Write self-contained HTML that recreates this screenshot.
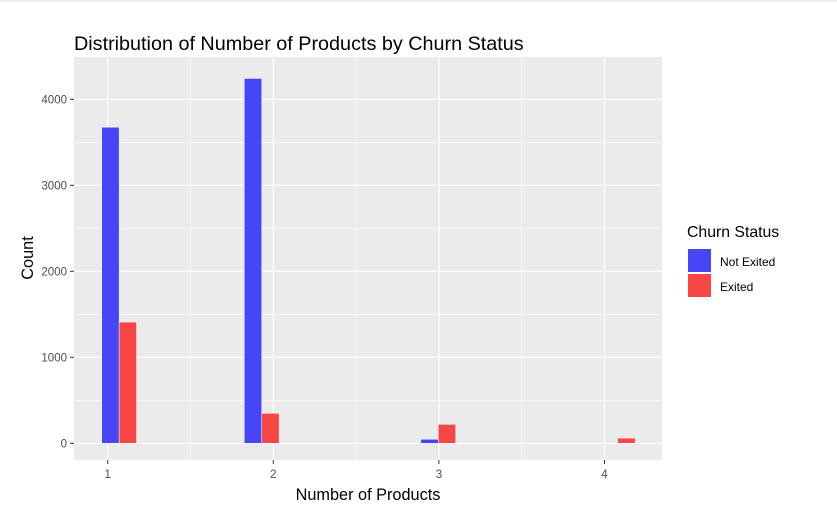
<!DOCTYPE html>
<html><head><meta charset="utf-8"><style>
body{margin:0;background:#fff;}
svg{display:block;font-family:"Liberation Sans",Arial,sans-serif;}
</style></head><body>
<svg id="chart" width="837" height="512">
<line x1="0" y1="1" x2="837" y2="1" stroke="#ddd"/>
<rect x="74" y="57" width="588" height="403" fill="#ebebeb"/>
<g id="grid"></g><g id="bars"></g><g id="axes"></g>
<text x="74" y="50" font-size="19.8" fill="#000">Distribution of Number of Products by Churn Status</text>
<text x="368" y="500" font-size="16.3" text-anchor="middle" fill="#000">Number of Products</text>
<text x="33" y="258" font-size="16.3" text-anchor="middle" transform="rotate(-90 33 258)" fill="#000">Count</text>
<g>
<text x="687" y="237" font-size="15.8" fill="#000">Churn Status</text>
<rect x="688" y="249" width="23" height="23" fill="#4646f6"/>
<text x="720" y="266" font-size="12" fill="#000">Not Exited</text>
<rect x="688" y="274" width="23" height="23" fill="#f64646"/>
<text x="720" y="291" font-size="12" fill="#000">Exited</text>
</g>
</svg>
<script>
const categories=[1,2,3,4];
const binStart=[0.964,1.825,2.891,3.975];
const notExited=[3675,4242,46,0];
const exited=[1409,348,220,60];
const yTicks=[0,1000,2000,3000,4000];
const yMinor=[500,1500,2500,3500];
const xMinor=[1.5,2.5,3.5];
const NS="http://www.w3.org/2000/svg";
const xs=v=>107.7+(v-1)*165.6;
const ys=v=>443.3-v*0.086;
const barW=0.105;
function mk(t,a,p){const e=document.createElementNS(NS,t);for(const k in a)e.setAttribute(k,a[k]);p.appendChild(e);return e;}
const grid=document.getElementById('grid'),bars=document.getElementById('bars'),axes=document.getElementById('axes');
yMinor.forEach(v=>{const l=mk('line',{x1:74,x2:662,y1:ys(v),y2:ys(v),stroke:'#fff','stroke-width':0.6},grid);

});
xMinor.forEach(v=>{const l=mk('line',{x1:xs(v),x2:xs(v),y1:57,y2:460,stroke:'#fff','stroke-width':0.6},grid);

});
yTicks.forEach(v=>{const l=mk('line',{x1:74,x2:662,y1:ys(v),y2:ys(v),stroke:'#fff','stroke-width':1.2},grid);


const t=mk('line',{x1:70,x2:74,y1:ys(v),y2:ys(v),stroke:'#333'},axes);


const tx=mk('text',{x:67,y:ys(v)+4,'font-size':11.5,'text-anchor':'end',fill:'#4d4d4d'},axes);tx.textContent=v;

});
categories.forEach((c,i)=>{const l=mk('line',{x1:xs(c),x2:xs(c),y1:57,y2:460,stroke:'#fff','stroke-width':1.2},grid);


const t=mk('line',{x1:xs(c),x2:xs(c),y1:460,y2:464,stroke:'#333'},axes);


const tx=mk('text',{x:xs(c),y:478,'font-size':11.5,'text-anchor':'middle',fill:'#4d4d4d'},axes);tx.textContent=c;


const x0=binStart[i];
if(notExited[i]>0){const b=mk('rect',{x:xs(x0),y:ys(notExited[i]),width:xs(x0+barW)-xs(x0),height:ys(0)-ys(notExited[i]),fill:'#4646f6',stroke:'#f0f0ff','stroke-width':0.5},bars);

}
if(exited[i]>0){const b=mk('rect',{x:xs(x0+barW),y:ys(exited[i]),width:xs(x0+2*barW)-xs(x0+barW),height:ys(0)-ys(exited[i]),fill:'#f64646',stroke:'#fff0f0','stroke-width':0.5},bars);

}
});
</script>
</body></html>
